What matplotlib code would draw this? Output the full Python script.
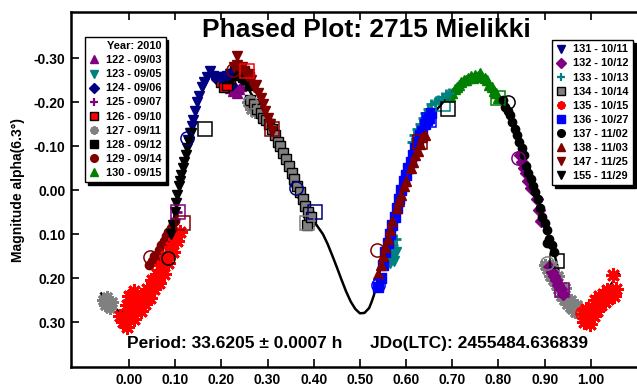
import matplotlib
matplotlib.use("Agg")
import matplotlib.pyplot as plt
from matplotlib.lines import Line2D

plt.rcParams['font.family'] = ['Liberation Sans', 'DejaVu Sans']
plt.rcParams['font.weight'] = 'bold'

# fourier fit (phase, magnitude):
fit_ph = [-0.06, -0.04, -0.02, 0.00, 0.02, 0.04, 0.06, 0.08, 0.09, 0.10, 0.11, 0.12,
          0.13, 0.14, 0.15, 0.16, 0.17, 0.18, 0.20, 0.22, 0.24, 0.26, 0.28, 0.30,
          0.32, 0.34, 0.36, 0.38, 0.40, 0.42, 0.43, 0.44, 0.45, 0.46, 0.47, 0.48,
          0.49, 0.50, 0.51, 0.52, 0.525, 0.53,
          0.54, 0.55, 0.56, 0.58, 0.60, 0.62, 0.64, 0.66, 0.68, 0.70, 0.72, 0.74,
          0.76, 0.78, 0.80, 0.82, 0.84, 0.86, 0.88, 0.90, 0.92, 0.94, 0.96, 0.98,
          1.00, 1.02, 1.04, 1.06]
fit_mag = [0.235, 0.26, 0.277, 0.272, 0.25, 0.215, 0.18, 0.14, 0.10, 0.05, 0.0, -0.055,
           -0.105, -0.155, -0.195, -0.23, -0.255, -0.262, -0.26, -0.265, -0.258, -0.228, -0.19, -0.155,
           -0.115, -0.065, -0.01, 0.035, 0.07, 0.10, 0.122, 0.148, 0.175, 0.203, 0.230, 0.253,
           0.270, 0.280, 0.279, 0.268, 0.255, 0.24,
           0.20, 0.15, 0.10, 0.02, -0.045, -0.095, -0.14, -0.175, -0.20, -0.222, -0.238, -0.25,
           -0.26, -0.245, -0.215, -0.19, -0.13, -0.055, 0.01, 0.08, 0.14, 0.225, 0.265, 0.277,
           0.265, 0.245, 0.22, 0.19]

# observed points per session (phase, magnitude):
p122 = [0.218, 0.222, 0.226, 0.230, 0.234, 0.238, 0.242]
m122 = [-0.232, -0.238, -0.226, -0.234, -0.222, -0.230, -0.236]
p123 = [0.566, 0.570, 0.574, 0.578]
m123 = [0.165, 0.150, 0.160, 0.140]
p124 = [0.188, 0.194, 0.200, 0.206, 0.212, 0.218, 0.224,
        0.352, 0.358, 0.364, 0.370, 0.376, 0.382, 0.388, 0.394]
m124 = [-0.252, -0.248, -0.244, -0.250, -0.240, -0.246, -0.238,
        -0.030, -0.015, -0.005, 0.010, 0.020, 0.035, 0.045, 0.055]
p125 = [0.084, 0.090, 0.096, 0.100, 0.104]
m125 = [0.125, 0.105, 0.085, 0.065, 0.050]
p126 = [0.200, 0.206, 0.212, 0.218, 0.224, 0.230, 0.236, 0.242, 0.248, 0.254, 0.260]
m126 = [-0.245, -0.235, -0.240, -0.255, -0.265, -0.272, -0.275, -0.266, -0.270, -0.262, -0.258]
p127 = [-0.056, -0.052, -0.048, -0.044, -0.040, -0.036,
        0.258, 0.264, 0.268, 0.272,
        0.900, 0.906, 0.912, 0.918, 0.924, 0.930, 0.936, 0.942, 0.948, 0.954,
        0.960, 0.966, 0.972, 0.978, 0.915, 0.928, 0.944, 0.958, 0.970]
m127 = [0.250, 0.262, 0.244, 0.258, 0.268, 0.255,
        -0.200, -0.185, -0.195, -0.178,
        0.170, 0.180, 0.195, 0.205, 0.215, 0.225, 0.240, 0.250, 0.258, 0.265,
        0.270, 0.276, 0.280, 0.282, 0.172, 0.195, 0.222, 0.250, 0.262]
p128 = [0.214, 0.222, 0.230, 0.238, 0.246, 0.254, 0.262]
m128 = [-0.255, -0.262, -0.268, -0.262, -0.258, -0.252, -0.240]
p129 = [0.044, 0.050, 0.055, 0.060, 0.065, 0.070, 0.075, 0.080, 0.085, 0.090, 0.095, 0.100]
m129 = [0.170, 0.160, 0.150, 0.155, 0.135, 0.125, 0.115, 0.105, 0.095, 0.085, 0.075, 0.070]
p130 = [0.695, 0.700, 0.705, 0.710, 0.715, 0.720, 0.725, 0.730, 0.735, 0.740, 0.745,
        0.750, 0.755, 0.760, 0.765, 0.770, 0.775, 0.780, 0.785, 0.790, 0.795, 0.800]
m130 = [-0.215, -0.220, -0.230, -0.235, -0.240, -0.245, -0.250, -0.250, -0.255, -0.260, -0.255,
        -0.262, -0.260, -0.266, -0.258, -0.255, -0.250, -0.240, -0.235, -0.225, -0.220, -0.210]
p131 = [0.128, 0.132, 0.136, 0.139, 0.143, 0.147, 0.152, 0.158, 0.163, 0.168, 0.175,
        0.182, 0.190, 0.197, 0.204, 0.212, 0.219]
m131 = [-0.115, -0.130, -0.145, -0.160, -0.180, -0.200, -0.215, -0.235, -0.245, -0.257, -0.272,
        -0.260, -0.258, -0.255, -0.257, -0.260, -0.265]
p132 = [0.846, 0.850, 0.855, 0.860, 0.865, 0.870, 0.884, 0.888, 0.892,
        0.910, 0.915, 0.920, 0.925, 0.930, 0.935, 0.940]
m132 = [-0.080, -0.065, -0.050, -0.040, -0.020, -0.005, 0.020, 0.045, 0.070,
        0.175, 0.185, 0.195, 0.205, 0.215, 0.225, 0.235]
p133 = [0.566, 0.572, 0.578, 0.612, 0.618, 0.624, 0.630, 0.636, 0.642, 0.648,
        0.655, 0.662, 0.670, 0.678, 0.686, 0.694]
m133 = [0.140, 0.125, 0.110, -0.110, -0.125, -0.140, -0.150, -0.165, -0.175, -0.185,
        -0.195, -0.200, -0.205, -0.212, -0.218, -0.222]
p134 = [0.262, 0.270, 0.278, 0.285, 0.290, 0.297, 0.303, 0.310, 0.316, 0.322, 0.328, 0.334,
        0.340, 0.346, 0.352, 0.358, 0.364, 0.370, 0.376, 0.382, 0.388, 0.390, 0.386, 0.394]
m134 = [-0.205, -0.195, -0.185, -0.175, -0.165, -0.160, -0.150, -0.140, -0.125, -0.110, -0.100, -0.085,
        -0.070, -0.055, -0.040, -0.025, -0.010, 0.005, 0.020, 0.035, 0.050, 0.070, 0.080, 0.060]
p135 = [-0.020, -0.012, -0.005, 0.000, 0.005, 0.010, 0.015, 0.020, 0.025, 0.030, 0.035, 0.040,
        0.045, 0.050, 0.055, 0.060, 0.065, 0.070, 0.075, 0.080, 0.085, 0.090, 0.095, 0.100,
        0.105, 0.110, 0.000, 0.010, -0.005,
        0.982, 0.986, 0.990, 0.994, 0.998, 1.002, 1.006, 1.010, 1.014, 1.018, 1.022, 1.026,
        1.030, 1.034, 1.038, 1.042, 1.048, 1.050, 1.055]
m135 = [0.285, 0.300, 0.310, 0.280, 0.265, 0.292, 0.272, 0.255, 0.275, 0.240, 0.258, 0.225,
        0.245, 0.205, 0.225, 0.190, 0.210, 0.170, 0.190, 0.150, 0.165, 0.130, 0.140, 0.110,
        0.115, 0.095, 0.240, 0.230, 0.260,
        0.282, 0.300, 0.270, 0.290, 0.305, 0.265, 0.285, 0.250, 0.275, 0.240, 0.262, 0.235,
        0.255, 0.228, 0.248, 0.232, 0.192, 0.240, 0.225]
p136 = [0.540, 0.545, 0.550, 0.555, 0.560, 0.565, 0.570, 0.575, 0.580, 0.585, 0.590, 0.595,
        0.600, 0.605, 0.610, 0.615, 0.620, 0.625, 0.630, 0.635, 0.640, 0.645, 0.650, 0.655]
m136 = [0.220, 0.200, 0.170, 0.140, 0.120, 0.100, 0.080, 0.060, 0.040, 0.020, 0.000, -0.020,
        -0.035, -0.050, -0.065, -0.080, -0.095, -0.110, -0.125, -0.135, -0.150, -0.160, -0.165, -0.175]
p137 = [0.810, 0.815, 0.820, 0.825, 0.830, 0.835, 0.840, 0.845, 0.850, 0.855, 0.860, 0.865,
        0.870, 0.875, 0.880, 0.885, 0.890, 0.895, 0.900, 0.905, 0.910, 0.915, 0.920, 0.905]
m137 = [-0.205, -0.190, -0.180, -0.170, -0.155, -0.140, -0.125, -0.110, -0.095, -0.080, -0.055, -0.040,
        -0.025, -0.010, 0.005, 0.020, 0.040, 0.060, 0.075, 0.090, 0.110, 0.125, 0.140, 0.120]
p138 = [0.540, 0.545, 0.550, 0.555, 0.560, 0.565, 0.570, 0.580, 0.585, 0.590, 0.595, 0.600,
        0.610, 0.615, 0.620, 0.625, 0.630, 0.635, 0.640]
m138 = [0.190, 0.170, 0.150, 0.130, 0.110, 0.090, 0.070, 0.040, 0.025, 0.010, -0.010, -0.020,
        -0.050, -0.065, -0.080, -0.090, -0.105, -0.120, -0.125]
p147 = [0.234, 0.228, 0.235, 0.240, 0.245, 0.250, 0.255, 0.260, 0.265, 0.270, 0.275, 0.280,
        0.285, 0.290, 0.295, 0.300, 0.305, 0.310]
m147 = [-0.305, -0.280, -0.285, -0.275, -0.280, -0.270, -0.260, -0.265, -0.250, -0.235, -0.240, -0.220,
        -0.210, -0.195, -0.180, -0.165, -0.150, -0.135]
p155 = [0.090, 0.095, 0.100, 0.102, 0.105, 0.108, 0.110, 0.113, 0.117, 0.120, 0.123, 0.126,
        0.130, 0.135]
m155 = [0.100, 0.080, 0.050, 0.030, 0.010, -0.010, -0.020, -0.035, -0.050, -0.065, -0.080, -0.095,
        -0.110, -0.130]

# large open markers at the start of sessions:
open_ph = [0.125, 0.165, 0.046, 0.084, 0.107, 0.117, 0.226, 0.255, 0.262, 0.310,
           0.362, 0.403, 0.386, 0.539, 0.536, 0.630, 0.650, 0.680, 0.690, 0.800,
           0.820, 0.842, 0.926, 0.905, 0.937, 0.981]
open_mag = [-0.118, -0.140, 0.152, 0.155, 0.050, 0.075, -0.273, -0.270, -0.200, -0.140,
            -0.005, 0.050, 0.075, 0.216, 0.137, -0.110, -0.160, -0.195, -0.185, -0.210,
            -0.200, -0.073, 0.160, 0.166, 0.227, 0.280]
open_mk = ['o', 's', 'o', 'o', 's', 's', 'o', 's', 'o', 's',
           'o', 's', 's', 'o', 'o', 's', 's', 's', 's', 's',
           'o', 'o', 's', 'o', 's', 'o']
open_col = ['#000080', 'black', '#800000', 'black', '#800080', '#800000', '#800000', 'red', 'gray', '#800000',
            '#000080', '#000080', 'gray', 'blue', '#800000', '#800000', 'blue', '#008080', 'black', '#008000',
            'black', '#800080', 'black', 'gray', '#800080', 'red']

# session labels and styles:
labels = ['122 - 09/03', '123 - 09/05', '124 - 09/06', '125 - 09/07', '126 - 09/10',
          '127 - 09/11', '128 - 09/12', '129 - 09/14', '130 - 09/15',
          '131 - 10/11', '132 - 10/12', '133 - 10/13', '134 - 10/14', '135 - 10/15',
          '136 - 10/27', '137 - 11/02', '138 - 11/03', '147 - 11/25', '155 - 11/29']
phases = [p122, p123, p124, p125, p126, p127, p128, p129, p130,
          p131, p132, p133, p134, p135, p136, p137, p138, p147, p155]
mags = [m122, m123, m124, m125, m126, m127, m128, m129, m130,
        m131, m132, m133, m134, m135, m136, m137, m138, m147, m155]
markers = ['^', 'v', 'D', '+', 's', (8, 2, 0), 's', 'o', '^',
           'v', 'D', '+', 's', (8, 2, 0), 's', 'o', '^', 'v', 'v']
faces = ['#800080', '#008080', '#000080', '#800080', 'red', 'gray', 'black', '#800000', '#008000',
         '#000080', '#800080', '#008080', 'gray', 'red', 'blue', 'black', '#800000', '#800000', 'black']
edges = ['#800080', '#008080', '#000080', '#800080', 'black', 'gray', 'black', '#800000', '#008000',
         '#000080', '#800080', '#008080', 'black', 'red', 'blue', 'black', '#800000', '#800000', 'black']
sizes = [6.5, 6.5, 5.5, 7, 6.5, 9, 6.5, 6, 6.5, 6.5, 6, 7, 7, 10.5, 6.5, 6, 6.5, 6.5, 6.5]

fig = plt.figure(figsize=(6.37, 3.87), dpi=100)
ax = fig.add_axes([71 / 637, 20 / 387, 566 / 637, 355 / 387])

ax.plot(fit_ph, fit_mag, color='black', lw=1.8, zorder=1)

handles = []
for lab, ph, mg, mk, fc, ec, ms in zip(labels, phases, mags, markers, faces, edges, sizes):
    mew = 2.0 if mk in ('+', (8, 2, 0)) else 1.0
    ax.plot(ph, mg, ls='none', marker=mk, ms=ms, mfc=fc, mec=ec, mew=mew, zorder=2)
    handles.append(Line2D([], [], ls='none', marker=mk, ms=min(ms, 6.5) - 0.5, mfc=fc, mec=ec,
                          mew=1.6 if mk in ('+', (8, 2, 0)) else 1.0, label=lab))

for ph, mg, mk, c in zip(open_ph, open_mag, open_mk, open_col):
    ax.plot(ph, mg, ls='none', marker=mk, ms=9.5, mfc='none', mec=c, mew=1.1, zorder=3)

ax.set_xlim(-0.1255, 1.10)
ax.set_ylim(0.402, -0.405)
ax.set_xticks([i / 10 for i in range(11)])
ax.set_yticks([-0.3, -0.2, -0.1, 0.0, 0.1, 0.2, 0.3])
ax.xaxis.set_major_formatter(matplotlib.ticker.FormatStrFormatter('%.2f'))
ax.yaxis.set_major_formatter(matplotlib.ticker.FormatStrFormatter('%.2f'))
ax.tick_params(direction='in', length=6, width=1.2, labelsize=10, pad=4, top=True)
ax.spines['right'].set_visible(False)
for s in ('left', 'bottom', 'top'):
    ax.spines[s].set_linewidth(1.8)
ax.set_ylabel('Magnitude alpha(6.3°)', fontsize=10, fontweight='bold', labelpad=6)

ax.text(0.522, 0.949, 'Phased Plot: 2715 Mielikki', transform=ax.transAxes,
        ha='center', va='center', fontsize=19, fontweight='bold')
ax.text(-0.004, 0.348, 'Period: 33.6205 ± 0.0007 h', ha='left', va='center',
        fontsize=12.5, fontweight='bold')
ax.text(0.522, 0.348, 'JDo(LTC): 2455484.636839', ha='left', va='center',
        fontsize=12.5, fontweight='bold')

leg_kw = dict(frameon=True, fancybox=False, framealpha=1, edgecolor='black',
              shadow={'color': 'black', 'alpha': 1}, fontsize=7.9, handlelength=0.8,
              handletextpad=0.7, labelspacing=0.37, borderpad=0.4, borderaxespad=0,
              numpoints=1)
leg1 = ax.legend(handles=handles[:9], loc='upper left', bbox_to_anchor=(0.0247, 0.93),
                 title='Year: 2010', title_fontproperties={'size': 7.9, 'weight': 'bold'},
                 alignment='right', **leg_kw)
leg1.get_frame().set_linewidth(1.0)
ax.add_artist(leg1)
leg2 = ax.legend(handles=handles[9:], loc='upper left', bbox_to_anchor=(0.85, 0.921), **leg_kw)
leg2.get_frame().set_linewidth(1.0)

fig.savefig('out.png', dpi=100)
